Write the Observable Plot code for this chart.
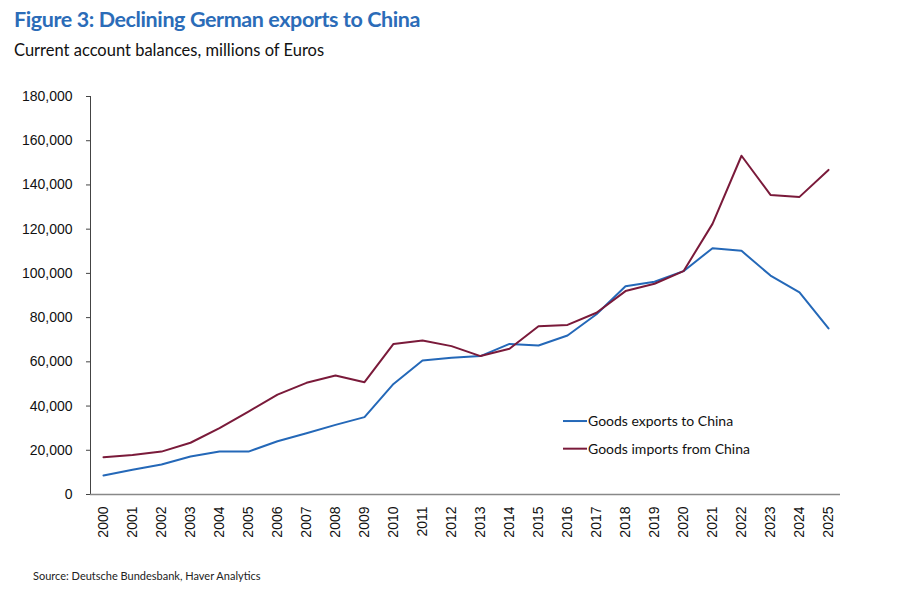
<!DOCTYPE html>
<html>
<head>
<meta charset="utf-8">
<script src="https://cdn.jsdelivr.net/npm/d3@7"></script>
<script src="https://cdn.jsdelivr.net/npm/@observablehq/plot@0.6"></script>
<style>
  html, body { margin: 0; padding: 0; background: #fff; }
  #wrap { position: relative; width: 920px; height: 600px; overflow: hidden; }
  #title { position: absolute; left: 14px; top: 6px; font: 700 21.5px Lato, sans-serif; letter-spacing: -0.4px; color: #2b6cb8; white-space: nowrap; }
  #subtitle { position: absolute; left: 14px; top: 40px; font: 400 16.5px Lato, sans-serif; color: #111; white-space: nowrap; }
  #chart { position: absolute; left: 0; top: 80px; }
  #source { position: absolute; left: 33px; top: 569px; font: 400 11px Lato, sans-serif; color: #222; white-space: nowrap; }
</style>
</head>
<body>
<div id="wrap">
  <div id="title">Figure 3: Declining German exports to China</div>
  <div id="subtitle">Current account balances, millions of Euros</div>
  <div id="chart"></div>
  <div id="source">Source: Deutsche Bundesbank, Haver Analytics</div>
</div>
<script>
const years = ["2000","2001","2002","2003","2004","2005","2006","2007","2008","2009","2010","2011","2012","2013","2014","2015","2016","2017","2018","2019","2020","2021","2022","2023","2024","2025"];
const exportsToChina = [8600, 11200, 13600, 17200, 19400, 19400, 24100, 27700, 31500, 35000, 50000, 60600, 61800, 62600, 68100, 67400, 71900, 81500, 94200, 96200, 101000, 111400, 110200, 99000, 91400, 75100];
const importsFromChina = [16900, 17900, 19400, 23400, 30000, 37500, 45200, 50500, 53800, 50800, 68100, 69600, 67100, 62600, 65900, 76100, 76700, 82200, 92000, 95300, 101000, 122400, 153200, 135500, 134600, 146800];
const seriesNames = ["Goods exports to China", "Goods imports from China"];
const seriesColors = ["#2468b8", "#7a1a3a"];
const yTicks = [0, 20000, 40000, 60000, 80000, 100000, 120000, 140000, 160000, 180000];

const data = [];
years.forEach((y, i) => {
  data.push({year: y, value: exportsToChina[i], series: seriesNames[0]});
  data.push({year: y, value: importsFromChina[i], series: seriesNames[1]});
});

const legendRows = [
  {series: seriesNames[0], value: 33000},
  {series: seriesNames[1], value: 20500}
];

const chart = Plot.plot({
  width: 920,
  height: 480,
  marginTop: 16,
  marginBottom: 66,
  marginLeft: 90,
  marginRight: 80,
  style: {fontFamily: "'Liberation Sans', Arial, sans-serif", fontSize: "14px", color: "#111", background: "#fff"},
  x: {type: "point", domain: years, padding: 0.25, label: null},
  y: {domain: [0, 180000], label: null},
  color: {domain: seriesNames, range: seriesColors},
  marks: [
    Plot.frame({anchor: "left", stroke: "#444", strokeWidth: 1}),
    Plot.ruleY([0], {stroke: "#888", strokeWidth: 1.5}),
    Plot.axisY({ticks: yTicks, tickFormat: d3.format(","), tickSize: 4, tickPadding: 14, stroke: "#444", fontSize: 14, label: null}),
    Plot.axisX({tickSize: 0, tickPadding: 12, tickRotate: -90, fontSize: 14, label: null}),
    Plot.line(data, {x: "year", y: "value", z: "series", stroke: "series", strokeWidth: 2}),
  ]
});
document.getElementById("chart").appendChild(chart);

// Legend inside the plot area, positioned with the chart's own y scale
const ys = chart.scale("y");
const svg = d3.select(chart);
const lx0 = 563, lx1 = 587;
legendRows.forEach((r, i) => {
  const yy = ys.apply(r.value);
  svg.append("line").attr("x1", lx0).attr("x2", lx1).attr("y1", yy).attr("y2", yy)
    .attr("stroke", seriesColors[i]).attr("stroke-width", 2);
  svg.append("text").attr("x", lx1 + 1).attr("y", yy).attr("dy", "0.35em")
    .attr("text-anchor", "start")
    .style("font", "400 14px Lato, sans-serif").attr("fill", "#111").text(r.series);
});
</script>
</body>
</html>
